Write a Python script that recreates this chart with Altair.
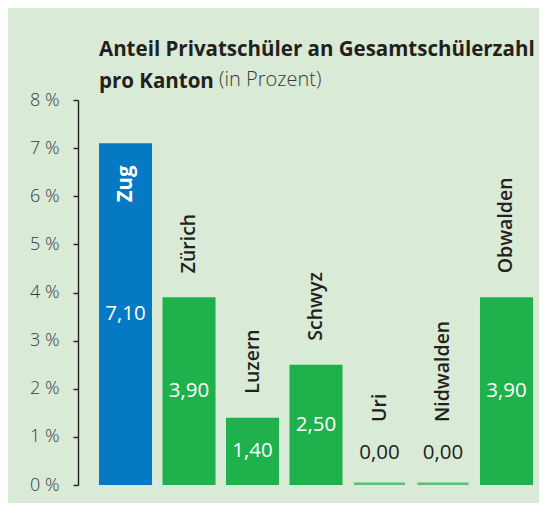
import altair as alt
import pandas as pd

# ---- data ----
kantone = ["Zug", "Zürich", "Luzern", "Schwyz", "Uri", "Nidwalden", "Obwalden"]
anteil = [7.10, 3.90, 1.40, 2.50, 0.00, 0.00, 3.90]
y_ticks = [0, 1, 2, 3, 4, 5, 6, 7, 8]
hervorgehoben = "Zug"
titel = ["Anteil Privatschüler an Gesamtschülerzahl", "pro Kanton"]
titel_zusatz = ["(in Prozent)"]

df = pd.DataFrame({"Kanton": kantone, "Anteil": anteil})

BG = "#d9ead6"
BLUE = "#0579c4"
GREEN = "#1fb14b"
DARK = "#231f20"
GREY = "#3a3a3a"
FONT = "Open Sans"

xenc = alt.X(
    "Kanton:N",
    sort=kantone,
    axis=None,
    scale=alt.Scale(paddingInner=0.165, paddingOuter=0.2125, align=0.778),
)
yscale = alt.Scale(domain=[0, 8], nice=False)
yaxis = alt.Axis(
    values=y_ticks,
    labelExpr="datum.value + ' %'",
    title=None,
    grid=False,
    domainColor=DARK,
    domainWidth=1.4,
    tickColor=DARK,
    tickWidth=1.4,
    tickSize=5,
    labelPadding=14,
    labelFont=FONT,
    labelFontSize=18,
    labelFontWeight=300,
    labelColor=GREY,
)


def Y(field):
    return alt.Y(field, scale=yscale, axis=yaxis, title=None)


base = alt.Chart(df).transform_calculate(
    label="replace(format(datum.Anteil, '.2f'), '.', ',')",
    mitte="datum.Anteil / 2",
)

pos = base.transform_filter("datum.Anteil > 0")
zero = base.transform_filter("datum.Anteil == 0")

bars = pos.mark_bar().encode(
    x=xenc,
    y=Y("Anteil:Q"),
    color=alt.condition(
        f"datum.Kanton == '{hervorgehoben}'", alt.value(BLUE), alt.value(GREEN)
    ),
)

zero_bars = zero.mark_tick(
    thickness=2.5, size=51, color=GREEN, yOffset=-1.2, orient="horizontal"
).encode(x=xenc, y=Y("Anteil:Q"))

value_in = pos.mark_text(
    color="white", font=FONT, fontSize=20.5, baseline="middle"
).encode(x=xenc, y=Y("mitte:Q"), text="label:N")

value_zero = zero.mark_text(
    color=DARK, font=FONT, fontSize=20.5, baseline="middle", yOffset=-32
).encode(x=xenc, y=Y("Anteil:Q"), text="label:N")

name_above = pos.transform_filter(f"datum.Kanton != '{hervorgehoben}'").mark_text(
    angle=270, align="left", baseline="middle", yOffset=-24,
    color=DARK, font=FONT, fontSize=19.5, fontWeight=600,
).encode(x=xenc, y=Y("Anteil:Q"), text="Kanton:N")

name_zero = zero.mark_text(
    angle=270, align="left", baseline="middle", yOffset=-63,
    color=DARK, font=FONT, fontSize=19.5, fontWeight=600,
).encode(x=xenc, y=Y("Anteil:Q"), text="Kanton:N")

name_hl = pos.transform_filter(f"datum.Kanton == '{hervorgehoben}'").mark_text(
    angle=270, align="right", baseline="middle", yOffset=22,
    color="white", font=FONT, fontSize=20.5, fontWeight="bold",
).encode(x=xenc, y=Y("Anteil:Q"), text="Kanton:N")

zusatz = alt.Chart(pd.DataFrame({"t": titel_zusatz})).mark_text(
    align="left", baseline="alphabetic", font=FONT, fontSize=20,
    fontWeight=300, color=GREY,
).encode(x=alt.value(141), y=alt.value(-14), text="t:N")

chart = (
    alt.layer(bars, zero_bars, value_in, value_zero, name_above, name_zero, name_hl, zusatz)
    .properties(
        width=461,
        height=385,
        title=alt.TitleParams(
            text=titel,
            anchor="start",
            frame="group",
            font=FONT,
            fontSize=20.5,
            fontWeight="bold",
            color=DARK,
            lineHeight=32,
            dx=21,
            dy=26,
            offset=4,
        ),
        autosize=alt.AutoSizeParams(type="none"),
        padding={"left": 70, "top": 92, "right": 0, "bottom": 18},
        background=BG,
    )
    .configure_view(stroke=None)
)

chart.save("out.html", embed_options={"renderer": "svg", "actions": False})
